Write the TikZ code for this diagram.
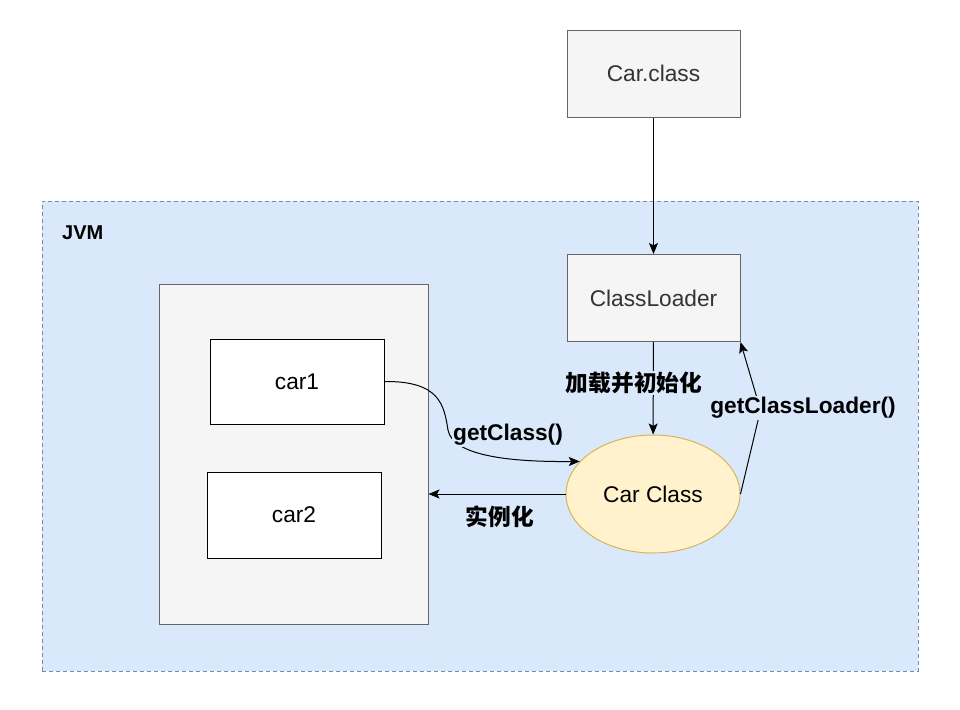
\documentclass[tikz,border=0pt]{standalone}
\usepackage{fontspec}
\setmainfont{Liberation Sans}
\newfontfamily\cjk{Noto Sans CJK SC}
\usepackage{tikz}
\usetikzlibrary{arrows.meta}
\usetikzlibrary{shapes}
\usetikzlibrary{backgrounds,positioning}
\usepackage{xcolor}
\definecolor{jvmfill}{HTML}{DAE8FC}
\definecolor{jvmline}{HTML}{6C8EBF}
\definecolor{boxfill}{HTML}{F5F5F5}
\definecolor{boxline}{HTML}{666666}
\definecolor{boxtext}{HTML}{333333}
\definecolor{clsfill}{HTML}{FFF2CC}
\definecolor{clsline}{HTML}{D6B656}
\begin{document}
\begin{tikzpicture}[x=0.5pt,y=-0.5pt,font=\fontsize{11.35}{13.6}\selectfont,line width=0.5pt,>={Stealth[length=5.5pt,width=4.5pt,inset=1.2pt]}]
      \useasboundingbox (0,0) rectangle (960,709);
      \node[draw=jvmline,fill=jvmfill,dash pattern=on 2pt off 1.5pt,minimum width=438pt,minimum height=235pt] (jvm) at (480,436) {};
      \node[anchor=west,font=\bfseries] (jvm_lab) at (55,233) {JVM};

      \begin{scope}[shape=rectangle,minimum width=86.5pt,minimum height=43.5pt]
          \tikzstyle{every node}=[draw=boxline,fill=boxfill,text=boxtext]
          \node (carfile)  at (653.5,73.5)  {Car.class};
          \node (loader)   at (653.5,298)   {ClassLoader};
          \node[minimum width=134.5pt,minimum height=170pt] (heap) at (293.5,454) {};
          \node[draw=black,fill=white,text=black,minimum width=87pt,minimum height=42.5pt] (car1) at (297,381.5) {car1};
          \node[draw=black,fill=white,text=black,minimum width=87pt,minimum height=43pt] (car2) at (294,515) {car2};
      \end{scope}
      \node[ellipse,draw=clsline,fill=clsfill,minimum width=87pt,minimum height=59pt] (carcls) at (653,494) {Car Class};

      \draw[->] (carfile) -- (loader);
      \draw[->] (loader)  -- (carcls);
      \draw[->] (car1.east) .. controls (440,381) and (444,405) .. (448,430) .. controls (453,458) and (520,462) .. (carcls.156);
      \draw[->] (carcls.west) -- (carcls.west -| heap.east);
      \draw[->] (carcls.east) -- ++(20,-84) -- (loader.south east);

      \begin{scope}[inner sep=0.5pt,font=\fontsize{11.35}{13.6}\selectfont\bfseries]
          \node[fill=jvmfill] (load_lab)   at (634,383) {\cjk\bfseries 加载并初始化};
          \node[fill=jvmfill] (getcls_lab) at (508,435) {getClass()};
          \node[fill=jvmfill] (new_lab)    at (500,517) {\cjk\bfseries 实例化};
          \node[fill=jvmfill] (getld_lab)  at (803,408) {getClassLoader()};
      \end{scope}
\end{tikzpicture}
\end{document}
